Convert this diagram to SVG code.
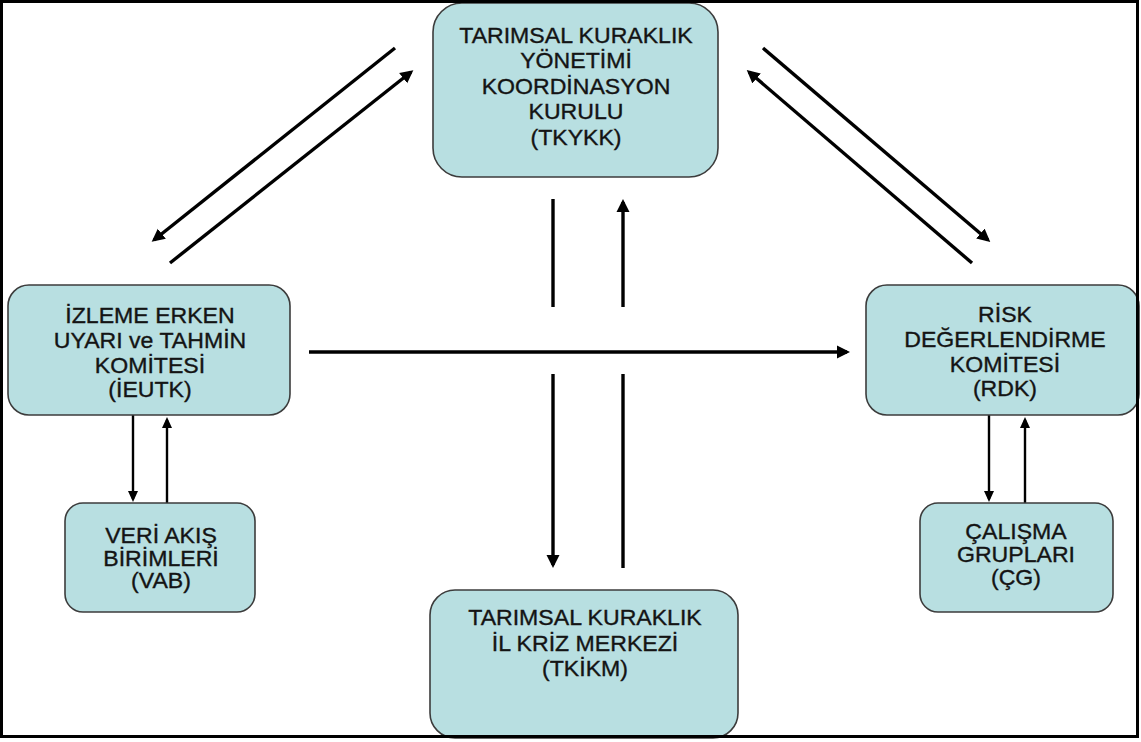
<svg xmlns="http://www.w3.org/2000/svg" width="1141" height="742" viewBox="0 0 1141 742">
<style>
.box{fill:#b8dfe1;stroke:#3c3c3c;stroke-width:1.6}
.t{font-family:"Liberation Sans",Arial,sans-serif;font-size:22px;fill:#141414;stroke:#141414;stroke-width:0.35;text-anchor:middle}
.a{fill:none;stroke:#000;stroke-width:3.4}
.s{fill:none;stroke:#000;stroke-width:2.4}
</style>
<defs>
<marker id="ah" markerUnits="userSpaceOnUse" markerWidth="14" markerHeight="14" refX="10" refY="7" orient="auto">
<path d="M0,0.5 L13,7 L0,13.5 z" fill="#000"/>
</marker>
<marker id="ahs" markerUnits="userSpaceOnUse" markerWidth="12" markerHeight="12" refX="8" refY="5.5" orient="auto">
<path d="M0,0.5 L11,5.5 L0,10.5 z" fill="#000"/>
</marker>
</defs>
<rect x="0" y="0" width="1141" height="742" fill="#fff"/>
<g id="connectors">
<path class="a" d="M395,48 L154,240" marker-end="url(#ah)"/>
<path class="a" d="M170,263 L411,72" marker-end="url(#ah)"/>
<path class="a" d="M763,48 L988,240" marker-end="url(#ah)"/>
<path class="a" d="M972,263 L749,72" marker-end="url(#ah)"/>
<path class="a" d="M553,199 L553,307"/>
<path class="a" d="M623,307 L623,202" marker-end="url(#ah)"/>
<path class="a" d="M553,374 L553,565" marker-end="url(#ah)"/>
<path class="a" d="M623,568 L623,374"/>
<path class="a" d="M309,352 L847,352" marker-end="url(#ah)"/>
<path class="s" d="M133,415 L133,499" marker-end="url(#ahs)"/>
<path class="s" d="M167,503 L167,420" marker-end="url(#ahs)"/>
<path class="s" d="M989,415 L989,499" marker-end="url(#ahs)"/>
<path class="s" d="M1025,503 L1025,420" marker-end="url(#ahs)"/>
</g>
<g id="tkykk">
<rect class="box" x="433" y="3" width="285" height="174" rx="29"/>
<text class="t" transform="translate(576,0) scale(1.05,1)"><tspan x="0" y="43">TARIMSAL KURAKLIK</tspan><tspan x="0" y="68">YÖNETİMİ</tspan><tspan x="0" y="94">KOORDİNASYON</tspan><tspan x="0" y="119">KURULU</tspan><tspan x="0" y="145">(TKYKK)</tspan></text>
</g>
<g id="ieutk">
<rect class="box" x="8" y="285" width="282" height="130" rx="21"/>
<text class="t" transform="translate(150,0) scale(1.05,1)"><tspan x="0" y="323">İZLEME ERKEN</tspan><tspan x="0" y="348">UYARI ve TAHMİN</tspan><tspan x="0" y="373">KOMİTESİ</tspan><tspan x="0" y="397">(İEUTK)</tspan></text>
</g>
<g id="rdk">
<rect class="box" x="866" y="285" width="273" height="130" rx="21"/>
<text class="t" transform="translate(1005,0) scale(1.05,1)"><tspan x="0" y="322">RİSK</tspan><tspan x="0" y="347">DEĞERLENDİRME</tspan><tspan x="0" y="372">KOMİTESİ</tspan><tspan x="0" y="396">(RDK)</tspan></text>
</g>
<g id="vab">
<rect class="box" x="65" y="503" width="190" height="109" rx="18"/>
<text class="t" transform="translate(161,0) scale(1.05,1)"><tspan x="0" y="543">VERİ AKIŞ</tspan><tspan x="0" y="566">BİRİMLERİ</tspan><tspan x="0" y="588">(VAB)</tspan></text>
</g>
<g id="cg">
<rect class="box" x="920" y="503" width="193" height="109" rx="18"/>
<text class="t" transform="translate(1016,0) scale(1.05,1)"><tspan x="0" y="539">ÇALIŞMA</tspan><tspan x="0" y="562">GRUPLARI</tspan><tspan x="0" y="585">(ÇG)</tspan></text>
</g>
<g id="tkikm">
<rect class="box" x="430" y="590" width="308" height="148" rx="25"/>
<text class="t" transform="translate(585,0) scale(1.05,1)"><tspan x="0" y="625">TARIMSAL KURAKLIK</tspan><tspan x="0" y="651">İL KRİZ MERKEZİ</tspan><tspan x="0" y="676">(TKİKM)</tspan></text>
</g>
<rect x="1.5" y="1.5" width="1136" height="735" fill="none" stroke="#000" stroke-width="3"/>
</svg>
